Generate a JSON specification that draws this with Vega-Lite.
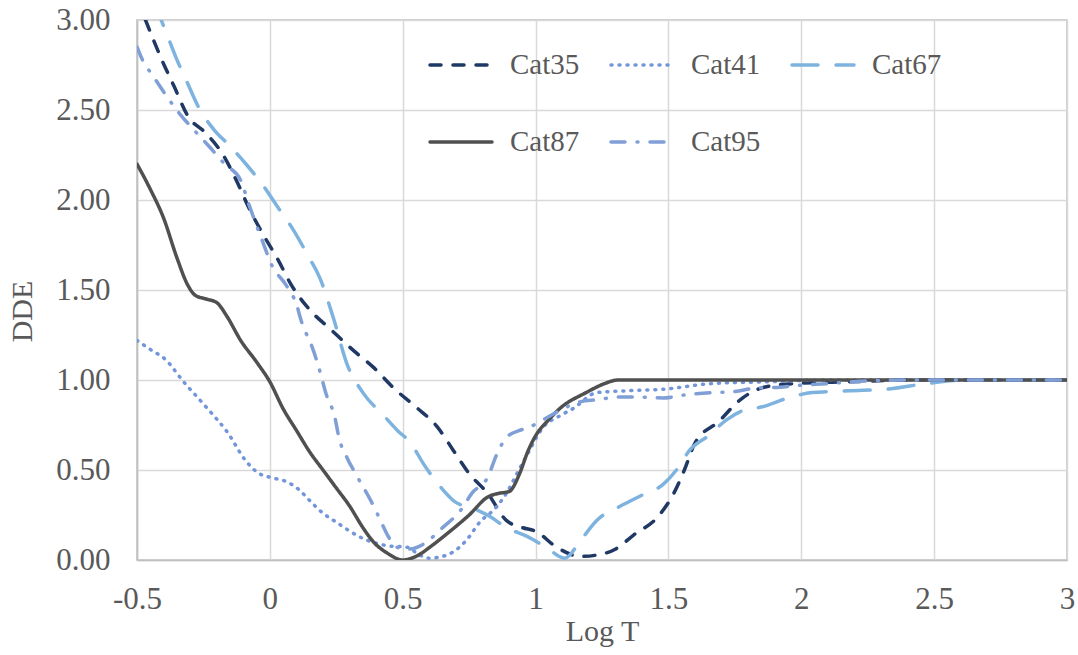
{
  "$schema": "https://vega.github.io/schema/vega-lite/v6.json",
  "width": 930,
  "height": 540,
  "autosize": {"type": "none"},
  "padding": {"left": 137, "top": 20, "right": 11, "bottom": 95},
  "background": "white",
  "config": {
    "font": "Liberation Serif",
    "view": {"stroke": "#BFBFBF", "strokeWidth": 1.5},
    "text": {"font": "Liberation Serif"},
    "axis": {
      "labelFont": "Liberation Serif",
      "titleFont": "Liberation Serif",
      "labelColor": "#595959",
      "titleColor": "#595959",
      "labelFontSize": 31,
      "titleFontSize": 30,
      "titleFontWeight": "normal",
      "gridColor": "#D9D9D9",
      "gridWidth": 1.5,
      "domainColor": "#BFBFBF",
      "domainWidth": 1.5,
      "ticks": false
    },
    "legend": {
      "labelFont": "Liberation Serif",
      "titleFont": "Liberation Serif",
      "labelColor": "#595959",
      "labelFontSize": 29
    }
  },
  "data": {
    "values": [
      {"series": "Cat35", "x": -0.5, "y": 3.12},
      {"series": "Cat35", "x": -0.46, "y": 2.97},
      {"series": "Cat35", "x": -0.41, "y": 2.79},
      {"series": "Cat35", "x": -0.36, "y": 2.63},
      {"series": "Cat35", "x": -0.31, "y": 2.47},
      {"series": "Cat35", "x": -0.24, "y": 2.37},
      {"series": "Cat35", "x": -0.18, "y": 2.26},
      {"series": "Cat35", "x": -0.12, "y": 2.09},
      {"series": "Cat35", "x": -0.08, "y": 1.96},
      {"series": "Cat35", "x": -0.03, "y": 1.82},
      {"series": "Cat35", "x": 0.03, "y": 1.67},
      {"series": "Cat35", "x": 0.08, "y": 1.53},
      {"series": "Cat35", "x": 0.15, "y": 1.39},
      {"series": "Cat35", "x": 0.23, "y": 1.28},
      {"series": "Cat35", "x": 0.31, "y": 1.17},
      {"series": "Cat35", "x": 0.39, "y": 1.07},
      {"series": "Cat35", "x": 0.47, "y": 0.95},
      {"series": "Cat35", "x": 0.55, "y": 0.85},
      {"series": "Cat35", "x": 0.63, "y": 0.74},
      {"series": "Cat35", "x": 0.69, "y": 0.61},
      {"series": "Cat35", "x": 0.75, "y": 0.48},
      {"series": "Cat35", "x": 0.82, "y": 0.37},
      {"series": "Cat35", "x": 0.89, "y": 0.22},
      {"series": "Cat35", "x": 0.95, "y": 0.18},
      {"series": "Cat35", "x": 1.0, "y": 0.16},
      {"series": "Cat35", "x": 1.08, "y": 0.07},
      {"series": "Cat35", "x": 1.17, "y": 0.02},
      {"series": "Cat35", "x": 1.24, "y": 0.03},
      {"series": "Cat35", "x": 1.3, "y": 0.06},
      {"series": "Cat35", "x": 1.37, "y": 0.14},
      {"series": "Cat35", "x": 1.46, "y": 0.24},
      {"series": "Cat35", "x": 1.52, "y": 0.37},
      {"series": "Cat35", "x": 1.56, "y": 0.5},
      {"series": "Cat35", "x": 1.6, "y": 0.65},
      {"series": "Cat35", "x": 1.69, "y": 0.77},
      {"series": "Cat35", "x": 1.77, "y": 0.89},
      {"series": "Cat35", "x": 1.86, "y": 0.96},
      {"series": "Cat35", "x": 1.97, "y": 0.98},
      {"series": "Cat35", "x": 2.18, "y": 0.99},
      {"series": "Cat35", "x": 2.4, "y": 1.0},
      {"series": "Cat35", "x": 2.7, "y": 1.0},
      {"series": "Cat35", "x": 3.0, "y": 1.0},

      {"series": "Cat41", "x": -0.5, "y": 1.22},
      {"series": "Cat41", "x": -0.45, "y": 1.17},
      {"series": "Cat41", "x": -0.39, "y": 1.11},
      {"series": "Cat41", "x": -0.33, "y": 1.0},
      {"series": "Cat41", "x": -0.24, "y": 0.85},
      {"series": "Cat41", "x": -0.16, "y": 0.71},
      {"series": "Cat41", "x": -0.09, "y": 0.55},
      {"series": "Cat41", "x": -0.04, "y": 0.48},
      {"series": "Cat41", "x": 0.0, "y": 0.46},
      {"series": "Cat41", "x": 0.07, "y": 0.43},
      {"series": "Cat41", "x": 0.11, "y": 0.39},
      {"series": "Cat41", "x": 0.15, "y": 0.33},
      {"series": "Cat41", "x": 0.2, "y": 0.26},
      {"series": "Cat41", "x": 0.25, "y": 0.21},
      {"series": "Cat41", "x": 0.35, "y": 0.12},
      {"series": "Cat41", "x": 0.44, "y": 0.08},
      {"series": "Cat41", "x": 0.52, "y": 0.07},
      {"series": "Cat41", "x": 0.56, "y": 0.03},
      {"series": "Cat41", "x": 0.6, "y": 0.01},
      {"series": "Cat41", "x": 0.67, "y": 0.03},
      {"series": "Cat41", "x": 0.74, "y": 0.11},
      {"series": "Cat41", "x": 0.79, "y": 0.21},
      {"series": "Cat41", "x": 0.85, "y": 0.29},
      {"series": "Cat41", "x": 0.89, "y": 0.37},
      {"series": "Cat41", "x": 0.93, "y": 0.48},
      {"series": "Cat41", "x": 0.97, "y": 0.59},
      {"series": "Cat41", "x": 1.03, "y": 0.74},
      {"series": "Cat41", "x": 1.09, "y": 0.8},
      {"series": "Cat41", "x": 1.14, "y": 0.84},
      {"series": "Cat41", "x": 1.23, "y": 0.93},
      {"series": "Cat41", "x": 1.34, "y": 0.94},
      {"series": "Cat41", "x": 1.49, "y": 0.95},
      {"series": "Cat41", "x": 1.66, "y": 0.98},
      {"series": "Cat41", "x": 1.87, "y": 0.99},
      {"series": "Cat41", "x": 2.1, "y": 1.0},
      {"series": "Cat41", "x": 3.0, "y": 1.0},

      {"series": "Cat67", "x": -0.5, "y": 3.33},
      {"series": "Cat67", "x": -0.39, "y": 2.93},
      {"series": "Cat67", "x": -0.35, "y": 2.78},
      {"series": "Cat67", "x": -0.31, "y": 2.65},
      {"series": "Cat67", "x": -0.27, "y": 2.52},
      {"series": "Cat67", "x": -0.21, "y": 2.39},
      {"series": "Cat67", "x": -0.15, "y": 2.3},
      {"series": "Cat67", "x": -0.09, "y": 2.2},
      {"series": "Cat67", "x": -0.03, "y": 2.09},
      {"series": "Cat67", "x": 0.03, "y": 1.96},
      {"series": "Cat67", "x": 0.09, "y": 1.83},
      {"series": "Cat67", "x": 0.14, "y": 1.7},
      {"series": "Cat67", "x": 0.19, "y": 1.56},
      {"series": "Cat67", "x": 0.24, "y": 1.34},
      {"series": "Cat67", "x": 0.29, "y": 1.09},
      {"series": "Cat67", "x": 0.35, "y": 0.93},
      {"series": "Cat67", "x": 0.43, "y": 0.8},
      {"series": "Cat67", "x": 0.48, "y": 0.72},
      {"series": "Cat67", "x": 0.53, "y": 0.65},
      {"series": "Cat67", "x": 0.58, "y": 0.53},
      {"series": "Cat67", "x": 0.64, "y": 0.41},
      {"series": "Cat67", "x": 0.7, "y": 0.32},
      {"series": "Cat67", "x": 0.76, "y": 0.29},
      {"series": "Cat67", "x": 0.83, "y": 0.24},
      {"series": "Cat67", "x": 0.89, "y": 0.18},
      {"series": "Cat67", "x": 0.97, "y": 0.13},
      {"series": "Cat67", "x": 1.04, "y": 0.07},
      {"series": "Cat67", "x": 1.11, "y": 0.01},
      {"series": "Cat67", "x": 1.17, "y": 0.11},
      {"series": "Cat67", "x": 1.23, "y": 0.22},
      {"series": "Cat67", "x": 1.32, "y": 0.3},
      {"series": "Cat67", "x": 1.4, "y": 0.36},
      {"series": "Cat67", "x": 1.48, "y": 0.42},
      {"series": "Cat67", "x": 1.53, "y": 0.5},
      {"series": "Cat67", "x": 1.58, "y": 0.61},
      {"series": "Cat67", "x": 1.65, "y": 0.69},
      {"series": "Cat67", "x": 1.72, "y": 0.78},
      {"series": "Cat67", "x": 1.78, "y": 0.83},
      {"series": "Cat67", "x": 1.85, "y": 0.85},
      {"series": "Cat67", "x": 1.95, "y": 0.9},
      {"series": "Cat67", "x": 2.04, "y": 0.93},
      {"series": "Cat67", "x": 2.18, "y": 0.94},
      {"series": "Cat67", "x": 2.33, "y": 0.95},
      {"series": "Cat67", "x": 2.47, "y": 0.98},
      {"series": "Cat67", "x": 2.62, "y": 1.0},
      {"series": "Cat67", "x": 2.8, "y": 1.0},
      {"series": "Cat67", "x": 3.0, "y": 1.0},

      {"series": "Cat87", "x": -0.5, "y": 2.2},
      {"series": "Cat87", "x": -0.45, "y": 2.06},
      {"series": "Cat87", "x": -0.4, "y": 1.9},
      {"series": "Cat87", "x": -0.35, "y": 1.68},
      {"series": "Cat87", "x": -0.31, "y": 1.53},
      {"series": "Cat87", "x": -0.28, "y": 1.47},
      {"series": "Cat87", "x": -0.24, "y": 1.45},
      {"series": "Cat87", "x": -0.2, "y": 1.43},
      {"series": "Cat87", "x": -0.16, "y": 1.35},
      {"series": "Cat87", "x": -0.11, "y": 1.22},
      {"series": "Cat87", "x": -0.05, "y": 1.1},
      {"series": "Cat87", "x": 0.0, "y": 0.99},
      {"series": "Cat87", "x": 0.05, "y": 0.84},
      {"series": "Cat87", "x": 0.1, "y": 0.72},
      {"series": "Cat87", "x": 0.15, "y": 0.6},
      {"series": "Cat87", "x": 0.2, "y": 0.5},
      {"series": "Cat87", "x": 0.25, "y": 0.4},
      {"series": "Cat87", "x": 0.3, "y": 0.3},
      {"series": "Cat87", "x": 0.35, "y": 0.18},
      {"series": "Cat87", "x": 0.39, "y": 0.1},
      {"series": "Cat87", "x": 0.44, "y": 0.04},
      {"series": "Cat87", "x": 0.5, "y": 0.0},
      {"series": "Cat87", "x": 0.55, "y": 0.02},
      {"series": "Cat87", "x": 0.61, "y": 0.08},
      {"series": "Cat87", "x": 0.67, "y": 0.15},
      {"series": "Cat87", "x": 0.75, "y": 0.25},
      {"series": "Cat87", "x": 0.82, "y": 0.35},
      {"series": "Cat87", "x": 0.86, "y": 0.37},
      {"series": "Cat87", "x": 0.9, "y": 0.38},
      {"series": "Cat87", "x": 0.94, "y": 0.48},
      {"series": "Cat87", "x": 0.97, "y": 0.6},
      {"series": "Cat87", "x": 1.0, "y": 0.69},
      {"series": "Cat87", "x": 1.05, "y": 0.78},
      {"series": "Cat87", "x": 1.09, "y": 0.84},
      {"series": "Cat87", "x": 1.19, "y": 0.93},
      {"series": "Cat87", "x": 1.26, "y": 0.98},
      {"series": "Cat87", "x": 1.31, "y": 1.0},
      {"series": "Cat87", "x": 1.36, "y": 1.0},
      {"series": "Cat87", "x": 1.5, "y": 1.0},
      {"series": "Cat87", "x": 2.0, "y": 1.0},
      {"series": "Cat87", "x": 3.0, "y": 1.0},

      {"series": "Cat95", "x": -0.5, "y": 2.85},
      {"series": "Cat95", "x": -0.48, "y": 2.78},
      {"series": "Cat95", "x": -0.44, "y": 2.69},
      {"series": "Cat95", "x": -0.39, "y": 2.58},
      {"series": "Cat95", "x": -0.34, "y": 2.48},
      {"series": "Cat95", "x": -0.28, "y": 2.38},
      {"series": "Cat95", "x": -0.23, "y": 2.3},
      {"series": "Cat95", "x": -0.17, "y": 2.2},
      {"series": "Cat95", "x": -0.11, "y": 2.11},
      {"series": "Cat95", "x": -0.08, "y": 1.98},
      {"series": "Cat95", "x": -0.03, "y": 1.78},
      {"series": "Cat95", "x": 0.01, "y": 1.63},
      {"series": "Cat95", "x": 0.06, "y": 1.53},
      {"series": "Cat95", "x": 0.1, "y": 1.42},
      {"series": "Cat95", "x": 0.12, "y": 1.32},
      {"series": "Cat95", "x": 0.16, "y": 1.18},
      {"series": "Cat95", "x": 0.19, "y": 1.04},
      {"series": "Cat95", "x": 0.21, "y": 0.93},
      {"series": "Cat95", "x": 0.245, "y": 0.79},
      {"series": "Cat95", "x": 0.26, "y": 0.68},
      {"series": "Cat95", "x": 0.29, "y": 0.57},
      {"series": "Cat95", "x": 0.33, "y": 0.46},
      {"series": "Cat95", "x": 0.38, "y": 0.33},
      {"series": "Cat95", "x": 0.41, "y": 0.24},
      {"series": "Cat95", "x": 0.45, "y": 0.12},
      {"series": "Cat95", "x": 0.48, "y": 0.07},
      {"series": "Cat95", "x": 0.52, "y": 0.06},
      {"series": "Cat95", "x": 0.58, "y": 0.09},
      {"series": "Cat95", "x": 0.65, "y": 0.18},
      {"series": "Cat95", "x": 0.72, "y": 0.28},
      {"series": "Cat95", "x": 0.76, "y": 0.37},
      {"series": "Cat95", "x": 0.82, "y": 0.46},
      {"series": "Cat95", "x": 0.855, "y": 0.59},
      {"series": "Cat95", "x": 0.89, "y": 0.68},
      {"series": "Cat95", "x": 0.94, "y": 0.72},
      {"series": "Cat95", "x": 0.98, "y": 0.74},
      {"series": "Cat95", "x": 1.03, "y": 0.78},
      {"series": "Cat95", "x": 1.09, "y": 0.83},
      {"series": "Cat95", "x": 1.17, "y": 0.88},
      {"series": "Cat95", "x": 1.23, "y": 0.89},
      {"series": "Cat95", "x": 1.31, "y": 0.905},
      {"series": "Cat95", "x": 1.39, "y": 0.905},
      {"series": "Cat95", "x": 1.48, "y": 0.9},
      {"series": "Cat95", "x": 1.55, "y": 0.915},
      {"series": "Cat95", "x": 1.66, "y": 0.93},
      {"series": "Cat95", "x": 1.74, "y": 0.935},
      {"series": "Cat95", "x": 1.83, "y": 0.955},
      {"series": "Cat95", "x": 1.92, "y": 0.96},
      {"series": "Cat95", "x": 1.99, "y": 0.97},
      {"series": "Cat95", "x": 2.1, "y": 0.98},
      {"series": "Cat95", "x": 2.19, "y": 0.99},
      {"series": "Cat95", "x": 2.4, "y": 1.0},
      {"series": "Cat95", "x": 3.0, "y": 1.0}
    ]
  },
  "mark": {"type": "line", "interpolate": "monotone", "clip": true, "strokeWidth": 3.5, "strokeCap": "round"},
  "encoding": {
    "x": {
      "field": "x",
      "type": "quantitative",
      "title": "Log T",
      "scale": {"domain": [-0.5, 3], "nice": false, "zero": false},
      "axis": {
        "values": [-0.5, 0, 0.5, 1, 1.5, 2, 2.5, 3],
        "labelExpr": "datum.value < 0 ? '-' + format(-datum.value, '~g') : format(datum.value, '~g')",
        "labelPadding": 24,
        "titlePadding": 2,
        "labelFlush": false
      }
    },
    "y": {
      "field": "y",
      "type": "quantitative",
      "title": "DDE",
      "scale": {"domain": [0, 3], "nice": false},
      "axis": {
        "values": [0, 0.5, 1, 1.5, 2, 2.5, 3],
        "format": ".2f",
        "labelPadding": 27,
        "titlePadding": 18,
        "titleY": 291,
        "labelFlush": false
      }
    },
    "color": {
      "field": "series",
      "type": "nominal",
      "scale": {
        "domain": ["Cat35", "Cat41", "Cat67", "Cat87", "Cat95"],
        "range": ["#203864", "#7396DA", "#7EB3E0", "#505050", "#7F9FD6"]
      },
      "legend": {
        "title": null,
        "orient": "none",
        "legendX": 291,
        "legendY": 12,
        "direction": "horizontal",
        "columns": 3,
        "symbolType": "stroke",
        "symbolSize": 3844,
        "symbolStrokeWidth": 3.5,
        "labelFont": "Liberation Serif",
        "labelFontSize": 29,
        "labelColor": "#595959",
        "labelOffset": 16,
        "columnPadding": 24,
        "rowPadding": 29,
        "encode": {"symbols": {"update": {"strokeCap": {"value": "round"}}}}
      }
    },
    "strokeDash": {
      "field": "series",
      "type": "nominal",
      "scale": {
        "domain": ["Cat35", "Cat41", "Cat67", "Cat87", "Cat95"],
        "range": [[11, 12], [1, 7], [26, 18], [1, 0], [14, 12, 1, 12]]
      }
    }
  }
}
